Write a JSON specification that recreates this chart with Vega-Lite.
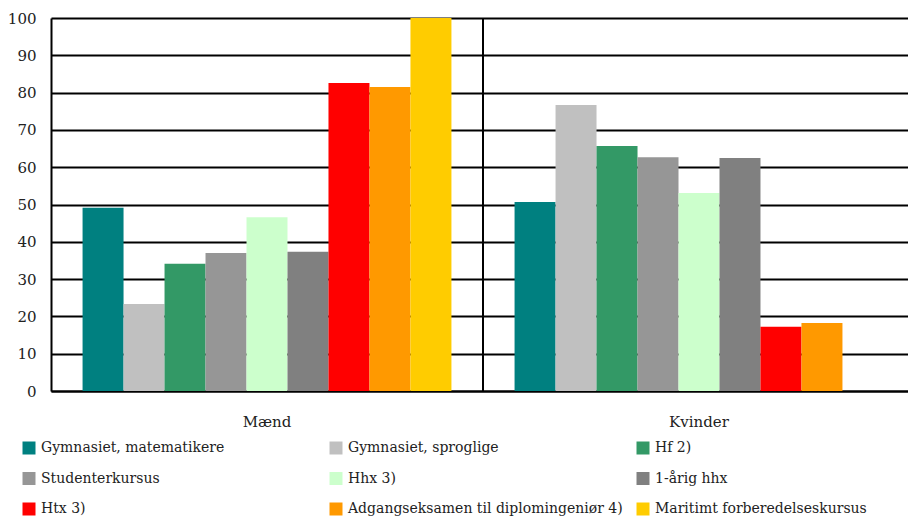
{
  "$schema": "https://vega.github.io/schema/vega-lite/v6.json",
  "width": 864,
  "height": 373,
  "padding": {"left": 5, "top": 11, "right": -7, "bottom": 0},
  "autosize": {"type": "pad"},
  "background": "white",
  "config": {"view": {"stroke": null}, "font": "DejaVu Serif"},
  "datasets": {
    "bars": [
      {"Køn": "Mænd", "Uddannelse": "Gymnasiet, matematikere", "Andel": 49.1},
      {"Køn": "Mænd", "Uddannelse": "Gymnasiet, sproglige", "Andel": 23.3},
      {"Køn": "Mænd", "Uddannelse": "Hf 2)", "Andel": 34.1},
      {"Køn": "Mænd", "Uddannelse": "Studenterkursus", "Andel": 37.0},
      {"Køn": "Mænd", "Uddannelse": "Hhx 3)", "Andel": 46.6},
      {"Køn": "Mænd", "Uddannelse": "1-årig hhx", "Andel": 37.3},
      {"Køn": "Mænd", "Uddannelse": "Htx 3)", "Andel": 82.6},
      {"Køn": "Mænd", "Uddannelse": "Adgangseksamen til diplomingeniør 4)", "Andel": 81.5},
      {"Køn": "Mænd", "Uddannelse": "Maritimt forberedelseskursus", "Andel": 100},
      {"Køn": "Kvinder", "Uddannelse": "Gymnasiet, matematikere", "Andel": 50.7},
      {"Køn": "Kvinder", "Uddannelse": "Gymnasiet, sproglige", "Andel": 76.7},
      {"Køn": "Kvinder", "Uddannelse": "Hf 2)", "Andel": 65.7},
      {"Køn": "Kvinder", "Uddannelse": "Studenterkursus", "Andel": 62.7},
      {"Køn": "Kvinder", "Uddannelse": "Hhx 3)", "Andel": 53.1},
      {"Køn": "Kvinder", "Uddannelse": "1-årig hhx", "Andel": 62.5},
      {"Køn": "Kvinder", "Uddannelse": "Htx 3)", "Andel": 17.2},
      {"Køn": "Kvinder", "Uddannelse": "Adgangseksamen til diplomingeniør 4)", "Andel": 18.2}
    ],
    "sep": [{"Køn": "Kvinder"}]
  },
  "layer": [
    {
      "data": {"name": "bars"},
      "mark": {"type": "bar"},
      "encoding": {
        "x": {
          "field": "Køn",
          "type": "nominal",
          "sort": ["Mænd", "Kvinder"],
          "scale": {"paddingInner": 0, "paddingOuter": 0},
          "axis": {
            "title": null,
            "labelAngle": 0,
            "ticks": false,
            "domain": true,
            "domainColor": "black",
            "domainWidth": 2,
            "labelPadding": 23,
            "labelFontSize": 15,
            "labelFont": "DejaVu Serif",
            "labelColor": "#222"
          }
        },
        "xOffset": {
          "field": "Uddannelse",
          "type": "nominal",
          "sort": ["Gymnasiet, matematikere", "Gymnasiet, sproglige", "Hf 2)", "Studenterkursus", "Hhx 3)", "1-årig hhx", "Htx 3)", "Adgangseksamen til diplomingeniør 4)", "Maritimt forberedelseskursus"],
          "scale": {"paddingInner": 0, "paddingOuter": 0.77}
        },
        "y": {
          "field": "Andel",
          "type": "quantitative",
          "scale": {"domain": [0, 100], "nice": false},
          "axis": {
            "title": null,
            "values": [0, 10, 20, 30, 40, 50, 60, 70, 80, 90, 100],
            "grid": true,
            "gridColor": "black",
            "gridWidth": 2,
            "gridOpacity": 1,
            "domain": true,
            "domainColor": "black",
            "domainWidth": 2,
            "ticks": false,
            "labelPadding": 15,
            "labelFontSize": 15,
            "labelFont": "DejaVu Serif",
            "labelColor": "#222",
            "minExtent": 46,
            "maxExtent": 46
          }
        },
        "color": {
          "field": "Uddannelse",
          "type": "nominal",
          "scale": {
            "domain": ["Gymnasiet, matematikere", "Gymnasiet, sproglige", "Hf 2)", "Studenterkursus", "Hhx 3)", "1-årig hhx", "Htx 3)", "Adgangseksamen til diplomingeniør 4)", "Maritimt forberedelseskursus"],
            "range": ["#008080", "#C0C0C0", "#339966", "#969696", "#CCFFCC", "#808080", "#FF0000", "#FF9900", "#FFCC00"]
          },
          "legend": {
            "title": null,
            "orient": "none",
            "direction": "horizontal",
            "legendX": -29,
            "legendY": 423,
            "columns": 3,
            "gridAlign": "all",
            "symbolType": "square",
            "symbolSize": 169,
            "symbolStrokeWidth": 0,
            "symbolOpacity": 1,
            "labelFontSize": 14,
            "labelFont": "DejaVu Serif",
            "labelColor": "#222",
            "labelOffset": 5,
            "labelLimit": 400,
            "rowPadding": 16.5,
            "columnPadding": 13,
            "padding": 0
          }
        }
      }
    },
    {
      "data": {"name": "sep"},
      "mark": {"type": "rule", "color": "black", "strokeWidth": 2},
      "encoding": {
        "x": {"field": "Køn", "type": "nominal", "sort": ["Mænd", "Kvinder"], "bandPosition": 0}
      }
    }
  ]
}
